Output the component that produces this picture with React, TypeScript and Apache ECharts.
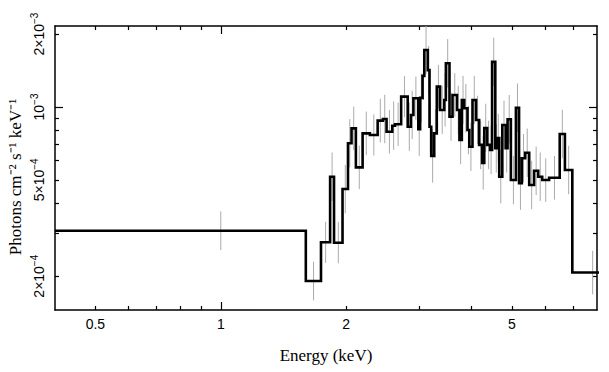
import React, { useEffect, useRef } from "react";
import * as echarts from "echarts";

// Bin edges (keV)
const binEdges = [
  0.4, 1.6, 1.74, 1.83, 1.87, 1.96, 2.02, 2.06, 2.11, 2.19, 2.28, 2.38, 2.45, 2.5,
  2.58, 2.62, 2.71, 2.81, 2.86, 2.9, 2.98, 3.01, 3.05, 3.08, 3.14, 3.17, 3.2, 3.25,
  3.3, 3.36, 3.44, 3.47, 3.54, 3.6, 3.69, 3.74, 3.79, 3.84, 3.91, 3.95, 4.02, 4.1,
  4.17, 4.24, 4.29, 4.36, 4.43, 4.48, 4.56, 4.61, 4.66, 4.74, 4.83, 4.88, 4.97,
  5.11, 5.2, 5.28, 5.38, 5.5, 5.65, 5.78, 5.91, 6.14, 6.51, 6.7, 6.98, 8.64,
];

// Flux per bin (photons cm^-2 s^-1 keV^-1)
const flux = [
  3.08e-4, 1.91e-4, 2.76e-4, 5.15e-4, 2.75e-4, 4.58e-4, 7.08e-4, 8.16e-4, 5.63e-4,
  7.78e-4, 7.66e-4, 8.78e-4, 8.92e-4, 7.9e-4, 8.37e-4, 8.48e-4, 1.103e-3, 8.29e-4,
  9.27e-4, 1.086e-3, 8.09e-4, 1.09e-3, 1.344e-3, 1.72e-3, 1.42e-3, 8.29e-4, 6.27e-4,
  7.78e-4, 1.213e-3, 9.72e-4, 1.069e-3, 1.516e-3, 9.12e-4, 1.121e-3, 9.72e-4, 7.3e-4,
  1.069e-3, 9.88e-4, 8.03e-4, 6.85e-4, 1.069e-3, 8.84e-4, 6.97e-4, 5.87e-4, 8.19e-4,
  6.97e-4, 6.64e-4, 1.535e-3, 6.75e-4, 7.44e-4, 5.15e-4, 8.43e-4, 6.75e-4, 8.9e-4,
  4.99e-4, 9.93e-4, 4.84e-4, 6.14e-4, 6.47e-4, 4.76e-4, 5.45e-4, 5.15e-4, 4.99e-4,
  5.1e-4, 7.73e-4, 5.49e-4, 2.07e-4,
];

// Error bar half-size per bin (dex)
const errDex = [
  0.08, 0.08, 0.085, 0.1, 0.085, 0.1, 0.1, 0.09, 0.09, 0.09, 0.085, 0.09, 0.1, 0.09,
  0.1, 0.09, 0.085, 0.1, 0.1, 0.09, 0.11, 0.1, 0.1, 0.1, 0.1, 0.11, 0.11, 0.1, 0.09,
  0.1, 0.11, 0.1, 0.1, 0.09, 0.1, 0.1, 0.1, 0.1, 0.1, 0.1, 0.1, 0.1, 0.1, 0.11, 0.1,
  0.1, 0.1, 0.1, 0.1, 0.1, 0.11, 0.1, 0.1, 0.1, 0.1, 0.1, 0.11, 0.1, 0.1, 0.1, 0.1,
  0.1, 0.09, 0.09, 0.1, 0.1, 0.09,
];

const xRange = [0.4, 8];
const yRange = [1.45e-4, 2.16e-3];

const xMajorTicks = [1];
const xMinorTicks = [0.5, 0.6, 0.7, 0.8, 0.9, 2, 3, 4, 5, 6, 7];
const xLabelValues = [0.5, 1, 2, 5];
const xLabelTexts = ["0.5", "1", "2", "5"];

const yMajorTicks = [1e-3];
const yMinorTicks = [2e-4, 3e-4, 4e-4, 5e-4, 6e-4, 7e-4, 8e-4, 9e-4, 2e-3];
const yLabelValues = [2e-4, 5e-4, 1e-3, 2e-3];
const yLabelMantissa = ["2×10", "5×10", "10", "2×10"];
const yLabelExponent = ["−4", "−4", "−3", "−3"];

const SANS = "'Liberation Sans', Arial, sans-serif";
const SERIF = "'Liberation Serif', 'Times New Roman', serif";

function nearestIndex(values: number[], v: number) {
  let best = -1;
  let bd = Infinity;
  values.forEach((t, i) => {
    const d = Math.abs(Math.log10(v) - Math.log10(t));
    if (d < bd) {
      bd = d;
      best = i;
    }
  });
  return bd < 1e-3 ? best : -1;
}

export default function App() {
  const ref = useRef<HTMLDivElement>(null);
  useEffect(() => {
    if (!ref.current) return;
    const chart = echarts.init(ref.current, undefined, { renderer: "svg" });

    const stepData: number[][] = [];
    const errData: number[][] = [];
    flux.forEach((v, i) => {
      const lo = binEdges[i];
      const hi = binEdges[i + 1];
      stepData.push([lo, v], [hi, v]);
      const e = errDex[i];
      errData.push([(lo + hi) / 2, v / Math.pow(10, e), v * Math.pow(10, e)]);
    });

    const lineStyle = { color: "#000", width: 1.5 };
    const baseAxis = (range: number[], position: string, ticks: number[], len: number, main: boolean) => ({
      type: "log",
      logBase: 10,
      min: range[0],
      max: range[1],
      position,
      gridIndex: 0,
      axisLine: { show: main, onZero: false, lineStyle },
      axisTick: { show: true, inside: true, length: len, customValues: ticks, lineStyle: { color: "#000", width: 1.2 } },
      axisLabel: { show: false },
      splitLine: { show: false },
      minorTick: { show: false },
    });

    const xMain: any = baseAxis(xRange, "bottom", xMinorTicks, 4, true);
    xMain.axisLabel = {
      show: true,
      customValues: xLabelValues,
      formatter: (v: number) => {
        const i = nearestIndex(xLabelValues, v);
        return i >= 0 ? xLabelTexts[i] : "";
      },
      fontFamily: SANS,
      fontSize: 14,
      color: "#000",
      margin: 7,
    };
    xMain.name = "Energy (keV)";
    xMain.nameLocation = "middle";
    xMain.nameGap = 37;
    xMain.nameMoveOverlap = false;
    xMain.nameTextStyle = { fontFamily: SERIF, fontSize: 17, color: "#000" };

    const yMain: any = baseAxis(yRange, "left", yMinorTicks, 4, true);
    yMain.axisLabel = {
      show: true,
      customValues: yLabelValues,
      formatter: (v: number) => {
        const i = nearestIndex(yLabelValues, v);
        return i >= 0 ? `{b|${yLabelMantissa[i]}}{s|${yLabelExponent[i]}}` : "";
      },
      color: "#000",
      rotate: 90,
      margin: 9,
      rich: {
        b: { fontFamily: SANS, fontSize: 14, color: "#000", lineHeight: 17, verticalAlign: "bottom" },
        s: { fontFamily: SANS, fontSize: 10, color: "#000", lineHeight: 17, verticalAlign: "top" },
      },
    };
    yMain.name = "Photons cm⁻² s⁻¹ keV⁻¹";
    yMain.nameLocation = "middle";
    yMain.nameGap = 31;
    yMain.nameMoveOverlap = false;
    yMain.nameTextStyle = { fontFamily: SERIF, fontSize: 17, color: "#000", padding: [0, 18, 0, 0] };

    const option: any = {
      animation: false,
      backgroundColor: "#fff",
      grid: { left: 55, right: 12, top: 26, bottom: 62, containLabel: false, outerBoundsMode: "none" },
      xAxis: [
        xMain,
        baseAxis(xRange, "bottom", xMajorTicks, 8, false),
        baseAxis(xRange, "top", xMinorTicks, 4, true),
        baseAxis(xRange, "top", xMajorTicks, 8, false),
      ],
      yAxis: [
        yMain,
        baseAxis(yRange, "left", yMajorTicks, 8, false),
        baseAxis(yRange, "right", yMinorTicks, 4, true),
        baseAxis(yRange, "right", yMajorTicks, 8, false),
      ],
      series: [
        {
          type: "custom",
          xAxisIndex: 0,
          yAxisIndex: 0,
          data: errData,
          clip: true,
          z: 1,
          renderItem: (params: any, api: any) => {
            const x = api.value(0);
            const p1 = api.coord([x, api.value(1)]);
            const p2 = api.coord([x, api.value(2)]);
            return {
              type: "line",
              shape: { x1: p1[0], y1: p1[1], x2: p2[0], y2: p2[1] },
              style: { stroke: "#ababab", lineWidth: 1 },
            };
          },
        },
        {
          type: "line",
          xAxisIndex: 0,
          yAxisIndex: 0,
          data: stepData,
          showSymbol: false,
          symbol: "none",
          clip: true,
          z: 2,
          lineStyle: { color: "#000", width: 2.6, join: "miter" },
        },
      ],
    };
    chart.setOption(option);
    return () => chart.dispose();
  }, []);
  return (
    <div
      ref={ref}
      style={{ position: "absolute", left: 0, top: 0, width: 609, height: 372, background: "#fff" }}
    />
  );
}
